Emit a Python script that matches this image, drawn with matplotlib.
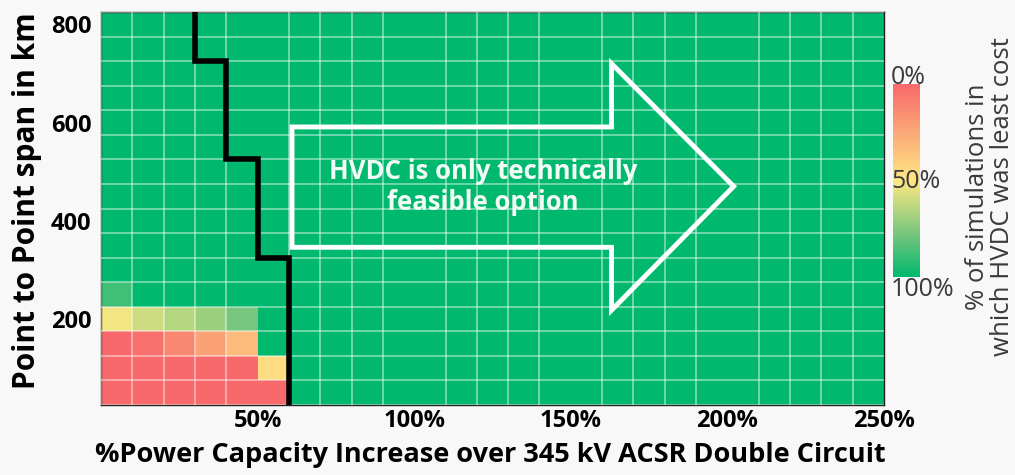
import numpy as np
import matplotlib
matplotlib.use("Agg")
import matplotlib.pyplot as plt
from matplotlib.colors import LinearSegmentedColormap
from matplotlib.patches import Polygon

plt.rcParams['font.family'] = ['Open Sans', 'DejaVu Sans']

# columns: % power capacity increase (upper edge of each cell)
capacity_pct = list(range(10, 251, 10))
# rows: point to point span (km, cell centre)
span_km = list(range(50, 801, 50))

# % of simulations in which HVDC was least cost, bottom rows only
# (first six capacity columns), everything else is 100%
low_rows = {
    50:  [0, 0, 0, 0, 0, 0],
    100: [0, 0, 0, 0, 0, 45],
    150: [0, 3, 12, 22, 32, 100],
    200: [52, 60, 65, 70, 78, 100],
    250: [88, 100, 100, 100, 100, 100],
}

# technical feasibility limit of AC (step line)
limit_x = [60, 60, 50, 50, 40, 40, 30, 30]
limit_y = [25, 325, 325, 525, 525, 725, 725, 825]

# arrow outline in data coords
arrow_x = [61, 61, 163, 163, 202, 163, 163]
arrow_y = [346, 591, 591, 720, 470, 218, 346]

x_ticks = [50, 100, 150, 200, 250]
y_ticks = [200, 400, 600, 800]

Z = np.full((len(span_km), len(capacity_pct)), 100.0)
for i, s in enumerate(span_km):
    if s in low_rows:
        Z[i, :len(low_rows[s])] = low_rows[s]

x_edges = [0] + capacity_pct
y_edges = [s - 25 for s in span_km] + [span_km[-1] + 25]

cmap = LinearSegmentedColormap.from_list(
    'rdylgn_xl', [(0.0, '#F8696B'), (0.5, '#FFE884'), (0.8, '#6CC47C'), (1.0, '#00B96E')])

fig = plt.figure(figsize=(10.15, 4.75), dpi=100, facecolor='#F8F8F8')
ax = fig.add_axes([101 / 1015, 1 - 405 / 475, 783 / 1015, 393 / 475])

ax.pcolormesh(x_edges, y_edges, Z, cmap=cmap, vmin=0, vmax=100, zorder=1)
ax.set_xlim(x_edges[0], x_edges[-1])
ax.set_ylim(y_edges[0], y_edges[-1])

# cell grid
ax.set_xticks(x_edges, minor=True)
ax.set_yticks(y_edges, minor=True)
ax.tick_params(which='minor', length=0)
ax.set_axisbelow(False)
ax.grid(which='minor', color='white', alpha=0.5, lw=1.2)
ax.grid(which='major', visible=False)

ax.plot(limit_x, limit_y, color='black', lw=4, solid_joinstyle='miter', zorder=5)

ax.add_patch(Polygon(list(zip(arrow_x, arrow_y)), closed=True, fill=False,
                     edgecolor='white', lw=3.5, joinstyle='miter', zorder=4))
ax.text(122, 468, 'HVDC is only technically\nfeasible option', color='#F2FBF6',
        fontsize=18.5, fontweight='bold', ha='center', va='center',
        linespacing=1.2, zorder=6)

ax.set_xticks(x_ticks)
ax.set_xticklabels([f'{t}%' for t in x_ticks])
ax.set_yticks(y_ticks)
ax.tick_params(which='major', length=0, labelsize=17, pad=3)
ax.tick_params(axis='y', pad=7)
for lbl in ax.get_xticklabels() + ax.get_yticklabels():
    lbl.set_fontweight('bold')
for sp in ax.spines.values():
    sp.set_color('#222222')
    sp.set_linewidth(1)

ax.set_xlabel('%Power Capacity Increase over 345 kV ACSR Double Circuit',
              fontsize=19.5, fontweight='bold', va='center')
ax.xaxis.set_label_coords(0.497, -0.128)
ax.set_ylabel('Point to Point span in km', fontsize=21.5, fontweight='bold', va='center')
ax.yaxis.set_label_coords(-0.094, 0.52)

# colour bar (0% at top)
cax = fig.add_axes([893 / 1015, 1 - 277 / 475, 27 / 1015, 193 / 475])
grad = np.linspace(0, 100, 256).reshape(-1, 1)
cax.imshow(grad, cmap=cmap, aspect='auto', extent=[0, 1, 100, 0], vmin=0, vmax=100)
cax.set_ylim(100, 0)
cax.axis('off')
for ypix, lab in [(77, '0%'), (182, '50%'), (290, '100%')]:
    fig.text(891 / 1015, 1 - ypix / 475, lab, color='#3A3A3A', fontsize=18,
             ha='left', va='center')

fig.text(0.975, 1 - 197 / 475, '% of simulations in\nwhich HVDC was least cost',
         rotation=90, ha='center', va='center', multialignment='center',
         fontsize=18.5, color='#3A3A3A', linespacing=1.0)

fig.savefig('out.png', dpi=100, facecolor=fig.get_facecolor())
